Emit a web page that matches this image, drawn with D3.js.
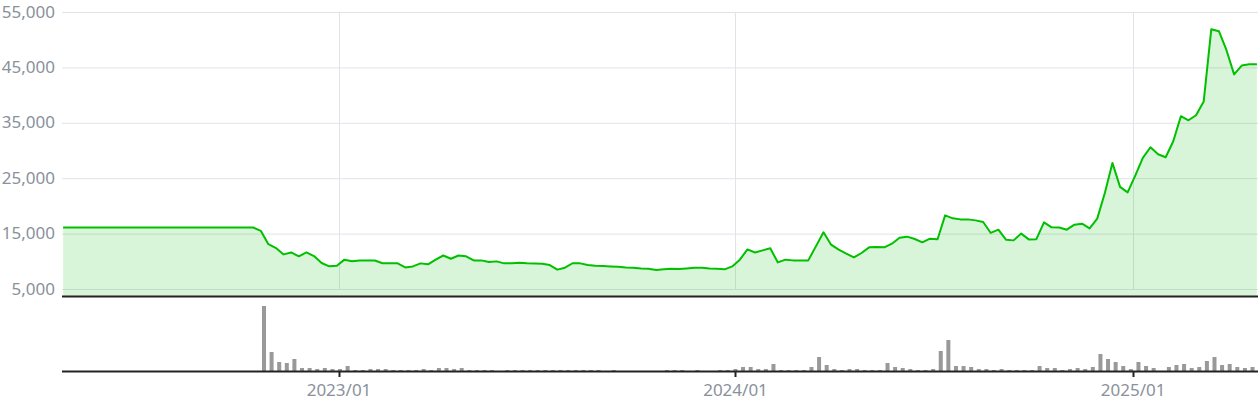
<!DOCTYPE html>
<html><head><meta charset="utf-8">
<script src="https://cdn.jsdelivr.net/npm/d3@7"></script>
<style>html,body{margin:0;padding:0;background:#fff;}svg{display:block;}</style>
</head><body>
<svg id="chart" width="1259" height="400"></svg>
<script>
// ---- data ----
const startDate = "2022-04-22";   // first weekly close (Friday)
const endDate = "2025-04-25";     // last weekly close
const price = [
16100,16100,16100,16100,16100,16100,16100,16100,16100,16100,
16100,16100,16100,16100,16100,16100,16100,16100,16100,16100,
16100,16100,16100,16100,16100,16100,15500,13100,12400,11250,
11600,10900,11600,10950,9700,9100,9200,10300,10000,10150,
10150,10150,9650,9650,9650,8900,9080,9630,9450,10300,
11050,10470,11050,10900,10170,10170,9870,9990,9630,9630,
9750,9630,9620,9570,9330,8500,8850,9650,9630,9330,
9200,9150,9080,9030,8900,8850,8720,8660,8430,8550,
8660,8600,8720,8850,8850,8720,8660,8550,9080,10300,
12150,11600,11980,12350,9800,10300,10170,10170,10170,12700,
15230,13000,12100,11380,10710,11500,12520,12590,12520,13180,
14270,14450,14030,13420,14090,13970,18300,17760,17570,17570,
17390,17100,15120,15710,13900,13780,15000,13960,14000,17030,
16130,16100,15710,16620,16800,15950,17700,22340,27760,23430,
22450,25470,28670,30590,29330,28780,31670,36190,35460,36370,
38840,51900,51540,48100,43740,45330,45570,45570
];
const volume = [
0,0,0,0,0,0,0,0,0,0,
0,0,0,0,0,0,0,0,0,0,
0,0,0,0,0,0,0,65,19,9,
8,12,3,3,2,3,2,2,5,1,
1,2,2,2,1,1,1,1,2,1,
3,3,2,3,1,1,1,1,0,1,
1,1,1,1,1,1,1,1,1,1,
1,1,0,1,0,0,0,0,0,0,
1,1,1,0,1,0,0,1,1,2,
4,4,2,2,7,1,1,1,1,4,
14,6,2,1,2,2,1,1,1,8,
4,3,2,1,1,2,20,31,5,5,
4,2,2,1,2,1,1,1,1,5,
3,3,1,2,3,2,4,17,12,9,
5,2,9,5,3,0,4,6,7,3,
4,10,14,6,7,4,3,4
];
const priceTicks = [5000, 15000, 25000, 35000, 45000, 55000];
const dateTicks = ["2023-01-01", "2024-01-01", "2025-01-01"];

// ---- build ----
const parse = d3.timeParse("%Y-%m-%d");
const dates = d3.timeFriday.range(parse(startDate), d3.timeDay.offset(parse(endDate), 1));
const data = dates.map((d, i) => ({date: d, price: price[i], vol: volume[i]}));
const tickDates = dateTicks.map(parse);

const svg = d3.select("#chart");
const left = 62, right = 1258;
const x = d3.scaleTime()
  .domain([d3.timeDay.offset(dates[0], -1), d3.timeDay.offset(dates[dates.length - 1], 1)])
  .range([left, right]);
const y = d3.scaleLinear().domain([3740, 55000]).range([296, 12]);
const yv = d3.scaleLinear().domain([0, 65]).range([371, 306]);

const grey = "#8a919b";
const font = "'Noto Sans', 'Open Sans', sans-serif";

// grid
const g = svg.append("g");
g.selectAll("line.h").data(priceTicks).join("line")
  .attr("x1", left).attr("x2", right)
  .attr("y1", d => y(d) + 0.5).attr("y2", d => y(d) + 0.5)
  .attr("stroke", "#e1e3e8").attr("stroke-width", 1);
g.selectAll("line.v").data(tickDates).join("line")
  .attr("x1", d => Math.round(x(d)) + 0.5).attr("x2", d => Math.round(x(d)) + 0.5)
  .attr("y1", y(55000)).attr("y2", y(5000))
  .attr("stroke", "#e1e3e8").attr("stroke-width", 1);

// area + line
const area = d3.area().x(d => x(d.date)).y0(y(3740)).y1(d => y(d.price));
svg.append("path").datum(data).attr("d", area).attr("fill", "rgba(0,190,0,0.15)");
const line = d3.line().x(d => x(d.date)).y(d => y(d.price));
svg.append("path").datum(data).attr("d", line)
  .attr("fill", "none").attr("stroke", "#00c000").attr("stroke-width", 2)
  .attr("stroke-linejoin", "round");

// y labels
svg.append("g").selectAll("text").data(priceTicks).join("text")
  .attr("x", 55).attr("y", d => y(d) + 5.5)
  .attr("text-anchor", "end")
  .attr("font-family", font).attr("font-size", 17).attr("fill", grey)
  .text(d => d3.format(",")(d));

// price baseline
svg.append("line").attr("x1", left).attr("x2", right)
  .attr("y1", 296.5).attr("y2", 296.5).attr("stroke", "#222").attr("stroke-width", 2);

// volume bars
svg.append("g").selectAll("rect").data(data.filter(d => d.vol > 0)).join("rect")
  .attr("x", d => x(d.date) - 6.4).attr("width", 4)
  .attr("y", d => yv(d.vol)).attr("height", d => yv(0) - yv(d.vol))
  .attr("fill", "#999");

// volume axis
svg.append("line").attr("x1", left).attr("x2", right)
  .attr("y1", 371.5).attr("y2", 371.5).attr("stroke", "#222").attr("stroke-width", 2);
const xa = svg.append("g");
xa.selectAll("line").data(tickDates).join("line")
  .attr("x1", d => Math.round(x(d)) + 0.5).attr("x2", d => Math.round(x(d)) + 0.5)
  .attr("y1", 372).attr("y2", 377).attr("stroke", "#222").attr("stroke-width", 2);
xa.selectAll("text").data(tickDates).join("text")
  .attr("x", d => x(d)).attr("y", 396)
  .attr("text-anchor", "middle")
  .attr("font-family", font).attr("font-size", 17).attr("fill", grey)
  .text(d3.timeFormat("%Y/%m"));
</script>
</body></html>
